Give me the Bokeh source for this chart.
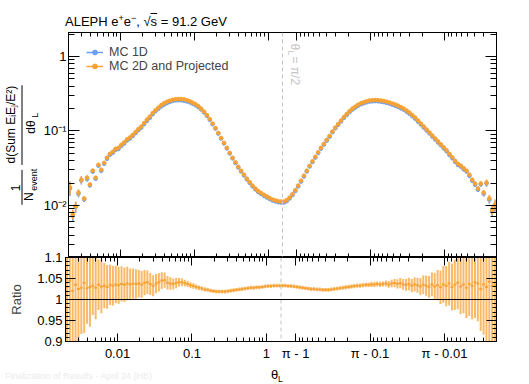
import numpy as np
from bokeh.plotting import figure
from bokeh.layouts import column, row
from bokeh.models import (FixedTicker, LinearAxis, LogAxis, Span, Label,
                          Legend, LegendItem, Range1d, Div)
from bokeh.embed import file_html
from bokeh.resources import INLINE
from bokeh.core.properties import value

FONT = "Liberation Sans"
ORANGE = "#F7A234"
BLUE = "#6A9EF2"
GREY = "#C4C4C4"

# ---------------- data ----------------
# 75 bins per half: left half in log10(theta_L), right half in log10(pi - theta_L)
THETA_MIN = 0.002
N_HALF = 75

mc2d_left = [0.0174, 0.0076, 0.0097, 0.0149, 0.0222, 0.0124, 0.0236, 0.0191, 0.0293, 0.0236,
             0.0352, 0.0302, 0.0374, 0.0437, 0.0493, 0.0525, 0.0575, 0.0593, 0.0651, 0.0702,
             0.0770, 0.0819, 0.0885, 0.0970, 0.1063, 0.1148, 0.1278, 0.1423, 0.1561, 0.1738,
             0.1905, 0.2057, 0.2222, 0.2362, 0.2473, 0.2551, 0.2630, 0.2672, 0.2687, 0.2687,
             0.2655, 0.2590, 0.2512, 0.2399, 0.2291, 0.2154, 0.1995, 0.1820, 0.1634, 0.1445,
             0.1259, 0.1096, 0.0940, 0.0806, 0.0692, 0.0593, 0.0509, 0.0437, 0.0380, 0.0331,
             0.0293, 0.0259, 0.0229, 0.0206, 0.0185, 0.0169, 0.0156, 0.0147, 0.0139, 0.0132,
             0.0126, 0.0120, 0.0117, 0.0114, 0.0113]
mc2d_right = [0.0113, 0.0118, 0.0128, 0.0142, 0.0161, 0.0185, 0.0215, 0.0251, 0.0293, 0.0342,
              0.0392, 0.0450, 0.0517, 0.0593, 0.0671, 0.0759, 0.0858, 0.0985, 0.1113, 0.1240,
              0.1380, 0.1537, 0.1685, 0.1848, 0.1995, 0.2121, 0.2256, 0.2362, 0.2435, 0.2512,
              0.2566, 0.2590, 0.2606, 0.2590, 0.2566, 0.2527, 0.2473, 0.2413, 0.2340, 0.2270,
              0.2188, 0.2089, 0.1995, 0.1876, 0.1765, 0.1634, 0.1514, 0.1380, 0.1259, 0.1148,
              0.1047, 0.0955, 0.0871, 0.0794, 0.0724, 0.0661, 0.0603, 0.0550, 0.0493, 0.0443,
              0.0398, 0.0363, 0.0342, 0.0316, 0.0293, 0.0259, 0.0222, 0.0197, 0.0169, 0.0197,
              0.0149, 0.0203, 0.0124, 0.0086, 0.0103]
ratio_left = [1.030, 1.045, 1.020, 1.035, 1.025, 1.028, 1.040, 1.027, 1.030, 1.033,
              1.028, 1.035, 1.031, 1.033, 1.030, 1.035, 1.033, 1.036, 1.034, 1.037,
              1.035, 1.038, 1.036, 1.038, 1.037, 1.038, 1.036, 1.040, 1.041, 1.037,
              1.033, 1.038, 1.041, 1.045, 1.046, 1.040, 1.038, 1.037, 1.039, 1.041,
              1.041, 1.039, 1.037, 1.034, 1.032, 1.030, 1.028, 1.026, 1.024, 1.023,
              1.021, 1.020, 1.019, 1.019, 1.019, 1.019, 1.020, 1.021, 1.022, 1.023,
              1.024, 1.025, 1.026, 1.027, 1.028, 1.028, 1.029, 1.029, 1.030, 1.031,
              1.032, 1.032, 1.033, 1.033, 1.033]
ratio_right = [1.033, 1.033, 1.032, 1.032, 1.031, 1.030, 1.029, 1.028, 1.027, 1.026,
               1.025, 1.025, 1.024, 1.024, 1.023, 1.023, 1.023, 1.024, 1.025, 1.026,
               1.027, 1.028, 1.029, 1.030, 1.031, 1.032, 1.033, 1.033, 1.034, 1.035,
               1.035, 1.036, 1.036, 1.037, 1.036, 1.037, 1.038, 1.036, 1.038, 1.039,
               1.037, 1.039, 1.036, 1.035, 1.037, 1.033, 1.036, 1.034, 1.031, 1.035,
               1.033, 1.030, 1.036, 1.031, 1.034, 1.029, 1.036, 1.032, 1.038, 1.030,
               1.035, 1.040, 1.031, 1.036, 1.028, 1.037, 1.033, 1.041, 1.038, 1.025,
               1.036, 1.030, 1.042, 1.032, 1.035]
ratio_err_left = [0.30, 0.22, 0.24, 0.16, 0.17, 0.11, 0.12, 0.085, 0.095, 0.070,
                  0.075, 0.060, 0.064, 0.054, 0.052, 0.048, 0.047, 0.045, 0.044, 0.042,
                  0.041, 0.040, 0.038, 0.036, 0.035, 0.033, 0.032, 0.030, 0.028, 0.026,
                  0.025, 0.023, 0.022, 0.020, 0.018, 0.016, 0.015, 0.013, 0.012, 0.010,
                  0.009, 0.008, 0.0075, 0.007, 0.0065, 0.006, 0.0055, 0.005, 0.005, 0.0048,
                  0.0046, 0.0045, 0.0045, 0.0045, 0.0045, 0.0045, 0.0045, 0.0045, 0.0045, 0.0045,
                  0.0045, 0.0045, 0.0045, 0.0045, 0.0045, 0.0045, 0.0045, 0.0045, 0.0045, 0.0045,
                  0.0045, 0.0045, 0.0045, 0.0045, 0.0045]
ratio_err_right = [0.0045, 0.0045, 0.0045, 0.0045, 0.0045, 0.0045, 0.0045, 0.0045, 0.0045, 0.0045,
                   0.0045, 0.0045, 0.0045, 0.0045, 0.0045, 0.0045, 0.0045, 0.0045, 0.0045, 0.0045,
                   0.0045, 0.005, 0.005, 0.005, 0.005, 0.005, 0.005, 0.005, 0.005, 0.005,
                   0.005, 0.006, 0.006, 0.006, 0.006, 0.006, 0.007, 0.008, 0.009, 0.010,
                   0.011, 0.012, 0.013, 0.014, 0.015, 0.016, 0.017, 0.018, 0.020, 0.022,
                   0.024, 0.026, 0.028, 0.032, 0.036, 0.040, 0.044, 0.048, 0.052, 0.056,
                   0.060, 0.063, 0.066, 0.069, 0.072, 0.076, 0.080, 0.085, 0.090, 0.100,
                   0.120, 0.140, 0.170, 0.210, 0.250]

series_names = ["MC 1D", "MC 2D and Projected"]
x_tick_dist = [0.01, 0.1, 1.0, 1.0, 0.1, 0.01]      # theta_L (left) or pi - theta_L (right)
x_tick_side = ["L", "L", "L", "R", "R", "R"]
x_tick_labels = ["0.01", "0.1", "1", "π - 1", "π - 0.1", "π - 0.01"]
y_tick_values = [1.0, 0.1, 0.01]
y_tick_labels = ["1", "10⁻¹", "10⁻²"]
r_tick_values = [0.9, 0.95, 1.0, 1.05, 1.1]
r_tick_labels = ["0.9", "0.95", "1", "1.05", "1.1"]
Y_RANGE = (0.002, 2.1)
R_RANGE = (0.9, 1.1)

# ---------------- coordinates ----------------
U_HALF = np.log10(np.pi / 2)


def to_u(d, side):
    return np.log10(d) if side == "L" else 2 * U_HALF - np.log10(d)


XMIN = to_u(THETA_MIN, "L")
XMAX = to_u(THETA_MIN, "R")
edges = np.linspace(XMIN, U_HALF, N_HALF + 1)
cl = 0.5 * (edges[:-1] + edges[1:])
bw = edges[1] - edges[0]
u = np.concatenate([cl, 2 * U_HALF - cl[::-1]])

mc2d = np.array(mc2d_left + mc2d_right)
ratio = np.array(ratio_left + ratio_right)
rerr = np.array(ratio_err_left + ratio_err_right)
mc1d = mc2d / ratio
rel = rerr / ratio / np.sqrt(2)

x_major = [float(to_u(d, s)) for d, s in zip(x_tick_dist, x_tick_side)]
x_minor = []
for m in (-3, -2, -1):
    for k in range(2, 10):
        d = k * 10.0 ** m
        if XMIN <= to_u(d, "L") < U_HALF:
            x_minor.append(float(to_u(d, "L")))
        if U_HALF < to_u(d, "R") <= XMAX:
            x_minor.append(float(to_u(d, "R")))
y_minor = [k * 10.0 ** m for m in (-3, -2, -1, 0) for k in range(2, 10)
           if Y_RANGE[0] <= k * 10.0 ** m <= Y_RANGE[1]]
r_minor = [round(0.9 + 0.01 * i, 2) for i in range(21)]

W_TOTAL = 506   # page is drawn from (0, 0)
FRAME_L = 65


def style_axis(ax, major_in, minor_in, ticks=None, labels=True, size="13px"):
    ax.major_tick_in = major_in
    ax.major_tick_out = 0
    ax.minor_tick_in = minor_in
    ax.minor_tick_out = 0
    ax.axis_line_color = "black"
    ax.major_tick_line_color = "black"
    ax.minor_tick_line_color = "black"
    if labels:
        ax.major_label_text_font = FONT
        ax.major_label_text_font_size = size
        ax.major_label_text_color = "black"
    else:
        ax.major_label_overrides = {t: "" for t in ticks}
        ax.major_label_text_font_size = "1px"
        ax.major_label_standoff = 0


# ---------------- title (HTML) ----------------
ttl = Div(width=W_TOTAL, height=31, margin=0, styles={"overflow": "visible"},
          text=("<div style=\"padding:15px 0 0 %dpx; font-family:'Liberation Sans'; font-size:13px; "
                "line-height:14px; white-space:nowrap; color:#000\">ALEPH e"
                "<sup style='font-size:9px; line-height:0'>+</sup>e"
                "<sup style='font-size:9px; line-height:0'>−</sup>, √"
                "<span style='text-decoration:overline'>s</span> = 91.2 GeV</div>") % FRAME_L)

# ---------------- y label column ----------------
lab = figure(width=40, height=226, x_range=Range1d(0, 40), y_range=Range1d(0, 226),
             x_axis_type=None, y_axis_type=None, output_backend="svg",
             toolbar_location=None, min_border=0, outline_line_color=None)
rot = np.pi / 2
lab.text(x=[10, 30, 15, 28], y=[133.5, 131, 70, 61],
         text=["d(Sum EᵢEⱼ/E²)", "dθ", "1", "N"], angle=rot,
         text_align="center", text_baseline="middle",
         text_font=value(FONT), text_font_size=value("12px"), text_color="black")
lab.text(x=[34.5, 33], y=[143, 78], text=["L", "event"], angle=rot,
         text_align="center", text_baseline="middle",
         text_font=value(FONT), text_font_size=value("9px"), text_color="black")
lab.segment(x0=[21.5, 21.5], y0=[93, 53], x1=[21.5, 21.5], y1=[173, 88],
            line_color="black", line_width=1)

# ---------------- top panel ----------------
top = figure(width=W_TOTAL - 40, height=226, x_range=Range1d(XMIN, XMAX),
             y_range=Range1d(*Y_RANGE), y_axis_type="log",
             output_backend="svg", toolbar_location=None,
             min_border_left=FRAME_L - 40, min_border_right=10,
             min_border_top=1, min_border_bottom=0)
top.grid.visible = False
top.outline_line_color = "black"
top.background_fill_color = "white"

top.xaxis.ticker = FixedTicker(ticks=x_major, minor_ticks=x_minor)
style_axis(top.xaxis[0], 8, 4, ticks=x_major, labels=False)
top.yaxis.ticker = FixedTicker(ticks=y_tick_values, minor_ticks=y_minor)
top.yaxis.major_label_overrides = dict(zip(y_tick_values, y_tick_labels))
top.yaxis.major_label_standoff = 2
style_axis(top.yaxis[0], 11, 6)
ax_top = LinearAxis(ticker=FixedTicker(ticks=x_major, minor_ticks=x_minor))
style_axis(ax_top, 8, 4, ticks=x_major, labels=False)
top.add_layout(ax_top, "above")
ax_right = LogAxis(ticker=FixedTicker(ticks=y_tick_values, minor_ticks=y_minor))
style_axis(ax_right, 11, 6, ticks=y_tick_values, labels=False)
top.add_layout(ax_right, "right")

top.add_layout(Span(location=U_HALF, dimension="height", line_color=GREY,
                    line_dash="4 3", line_width=1))

rb_err = top.segment(x0=u, x1=u, y0=mc1d * (1 - rel), y1=mc1d * (1 + rel),
                     line_color=BLUE, line_width=1.5)
rb_pt = top.scatter(u, mc1d, size=3.6, color=BLUE)
ro_err = top.segment(x0=u, x1=u, y0=mc2d * (1 - rel), y1=mc2d * (1 + rel),
                     line_color=ORANGE, line_width=1.5)
ro_pt = top.scatter(u, mc2d, size=3.6, color=ORANGE)

for name, rends, ly in [(series_names[0], [rb_err, rb_pt], 198),
                        (series_names[1], [ro_err, ro_pt], 184)]:
    top.add_layout(Legend(items=[LegendItem(label=name, renderers=rends)],
                          location=(18, ly), background_fill_alpha=0, border_line_alpha=0,
                          padding=0, margin=0, spacing=0, glyph_width=17, glyph_height=12,
                          label_height=12, label_standoff=6, label_text_font=FONT,
                          label_text_font_size="12.5px"))

for txt, dx, yy, fs in [("θ", 12, 214, "12px"), ("L", 8, 207, "9px"), ("= π/2", 12, 201, "12px")]:
    top.add_layout(Label(x=U_HALF, y=yy, x_units="data", y_units="screen", x_offset=dx,
                         text=txt, angle=-np.pi / 2, text_align="left", text_baseline="middle",
                         text_font=FONT, text_font_size=fs, text_color=GREY))

# ---------------- ratio panel ----------------
OVER = 8
rp = figure(width=W_TOTAL, height=OVER + 84 + 22, x_range=top.x_range, y_range=Range1d(*R_RANGE),
            output_backend="svg", toolbar_location=None,
            min_border_left=FRAME_L, min_border_right=10, min_border_top=OVER, min_border_bottom=22,
            margin=(-OVER, 0, 0, 0))
rp.grid.visible = False
rp.outline_line_color = "black"
rp.border_fill_alpha = 0

rp.xaxis.ticker = FixedTicker(ticks=x_major, minor_ticks=x_minor)
rp.xaxis.major_label_overrides = dict(zip(x_major, x_tick_labels))
rp.xaxis.major_label_standoff = 4
style_axis(rp.xaxis[0], 8, 4)
rp.yaxis.ticker = FixedTicker(ticks=r_tick_values, minor_ticks=r_minor)
rp.yaxis.major_label_overrides = dict(zip(r_tick_values, r_tick_labels))
rp.yaxis.major_label_standoff = 3
rp.yaxis.axis_label = "Ratio"
rp.yaxis.axis_label_text_font = FONT
rp.yaxis.axis_label_text_font_size = "13px"
rp.yaxis.axis_label_text_font_style = "normal"
rp.yaxis.axis_label_standoff = 10
style_axis(rp.yaxis[0], 10, 4)
ax_rt = LinearAxis(ticker=FixedTicker(ticks=x_major, minor_ticks=x_minor))
style_axis(ax_rt, 8, 4, ticks=x_major, labels=False)
rp.add_layout(ax_rt, "above")
ax_rr = LinearAxis(ticker=FixedTicker(ticks=r_tick_values, minor_ticks=r_minor))
style_axis(ax_rr, 10, 4, ticks=r_tick_values, labels=False)
rp.add_layout(ax_rr, "right")

rp.add_layout(Span(location=U_HALF, dimension="height", line_color=GREY,
                   line_dash="4 3", line_width=1))
rp.segment(x0=u, x1=u, y0=ratio - rerr, y1=ratio + rerr,
           line_color=ORANGE, line_alpha=0.75, line_width=2)
rp.add_layout(Span(location=1.0, dimension="width", line_color="black", line_width=1))
rp.segment(x0=u - bw / 2, x1=u + bw / 2, y0=ratio, y1=ratio,
           line_color=ORANGE, line_width=2)

# ---------------- x label + footer (HTML) ----------------
xl = Div(width=W_TOTAL, height=21, margin=0, styles={"overflow": "visible"},
         text=("<div style=\"position:relative; width:%dpx; height:21px; "
               "font-family:'Liberation Sans'; white-space:nowrap\">"
               "<span style='position:absolute; left:271px; top:5px; font-size:13px; "
               "line-height:13px; color:#000'>θ</span>"
               "<span style='position:absolute; left:278px; top:12px; font-size:8.5px; "
               "line-height:9px; color:#000'>L</span>"
               "<span style='position:absolute; left:5px; top:9px; font-size:9px; "
               "line-height:9px; color:#EBEBEB'>Finalization of Results - April 24 (HB)</span>"
               "</div>") % W_TOTAL)

layout = column(ttl, row(lab, top), rp, xl)
open("out.html", "w").write(file_html(layout, INLINE))
